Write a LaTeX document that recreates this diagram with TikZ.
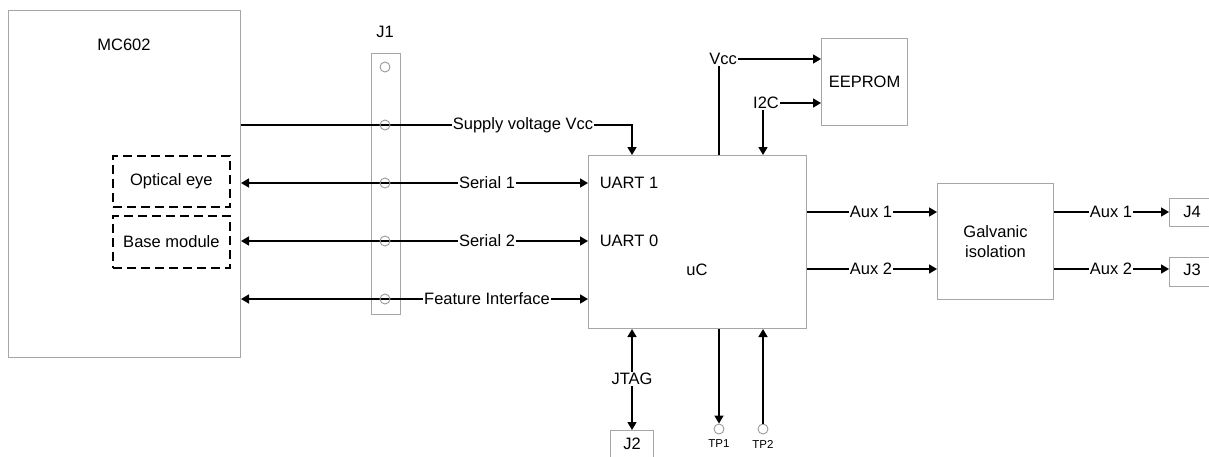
\documentclass[tikz,border=0pt]{standalone}
\usepackage{fontspec}
\setmainfont{Liberation Sans}
\usetikzlibrary{arrows.meta}
\begin{document}
\begin{tikzpicture}[x=1pt,y=-1pt,
  every node/.style={font=\fontsize{16.5}{19.5}\selectfont, inner sep=1pt},
  box/.style={draw=gray!70, line width=1pt, inner sep=0pt, anchor=north west},
  dbox/.style={draw=black, line width=1.8pt, dash pattern=on 9pt off 5pt, inner sep=0pt, anchor=north west},
  wire/.style={line width=1.6pt, draw=black},
  tip/.style={-{Triangle[length=8pt,width=9pt]}},
  tipl/.style={{Triangle[length=8pt,width=9pt]}-},
  small/.style={font=\fontsize{11.5}{13}\selectfont},
  pin/.style={draw=gray!80, line width=0.9pt, circle, minimum size=10pt, inner sep=0pt}
]
\useasboundingbox (0,0) rectangle (1209,456);

% boxes
\node[box, minimum width=232pt, minimum height=347pt] (mc) at (8,10) {};
\node (mct) at (124,45) {MC602};
\node[dbox, minimum width=117pt, minimum height=51pt] (oe) at (112,155) {};
\node at (oe.center) {Optical eye};
\node[dbox, minimum width=117pt, minimum height=52pt] (bm) at (112,215) {};
\node at (bm.center) {Base module};

\node[box, minimum width=29pt, minimum height=261pt] (j1) at (371,53) {};
\node (j1t) at (385,32) {J1};

\node[box, minimum width=218pt, minimum height=173pt] (uc) at (588,155) {};
\node (u1) at (629,183) {UART 1};
\node (u0) at (629,241) {UART 0};
\node (uct) at (697,270) {uC};

\node[box, minimum width=86pt, minimum height=87pt] (ee) at (821,38) {};
\node at (ee.center) {EEPROM};

\node[box, minimum width=116pt, minimum height=116pt] (gi) at (937,183) {};
\node[align=center] at (gi.center) {Galvanic\\isolation};

\node[box, minimum width=60pt, minimum height=28pt] (j4) at (1169,198) {};
\node (j4t) at (1192,212) {J4};
\node[box, minimum width=60pt, minimum height=29pt] (j3) at (1169,257) {};
\node (j3t) at (1192,270) {J3};

\node[box, minimum width=43pt, minimum height=40pt] (j2) at (610,430) {};
\node (j2t) at (632,444) {J2};

% labels
\node (sup) at (523,125) {Supply voltage Vcc};
\node (s1) at (487,183) {Serial 1};
\node (s2) at (487,241) {Serial 2};
\node (fi) at (487,299) {Feature Interface};
\node (vcc) at (723,59) {Vcc};
\node (i2c) at (766,103) {I2C};
\node (a1) at (871,212) {Aux 1};
\node (a2) at (871,269) {Aux 2};
\node (b1) at (1111,212) {Aux 1};
\node (b2) at (1111,269) {Aux 2};
\node (jtag) at (632,379) {JTAG};
\node[pin] (tp1c) at (719,429) {};
\node[pin] (tp2c) at (763,429) {};
\node[small] (tp1) at (719,444) {TP1};
\node[small] (tp2) at (763,444) {TP2};

% left connectors
\draw[wire] (mc.east |- sup) -- (sup.west);
\draw[wire,tip] (sup.east) -| (uc.north -| jtag);
\draw[wire,tipl] (mc.east |- s1) -- (s1.west);
\draw[wire,tip] (s1.east) -- (s1.east -| uc.west);
\draw[wire,tipl] (mc.east |- s2) -- (s2.west);
\draw[wire,tip] (s2.east) -- (s2.east -| uc.west);
\draw[wire,tipl] (mc.east |- fi) -- (fi.west);
\draw[wire,tip] (fi.east) -- (fi.east -| uc.west);

% J1 pins
\foreach \y/\n in {67/p1,125/p2,183/p3,241/p4,299/p5}
  \node[pin] (\n) at (385,\y) {};

% top
\draw[wire] (uc.north -| tp1c) -- (vcc.south -| tp1c);
\draw[wire,tip] (vcc.east) -- (vcc.east -| ee.west);
\draw[wire,tip] (i2c.east) -- (i2c.east -| ee.west);
\draw[wire,tip] (i2c.south -| tp2c) -- (uc.north -| tp2c);

% right
\draw[wire] (uc.east |- a1) -- (a1.west);
\draw[wire,tip] (a1.east) -- (a1.east -| gi.west);
\draw[wire] (uc.east |- a2) -- (a2.west);
\draw[wire,tip] (a2.east) -- (a2.east -| gi.west);
\draw[wire] (gi.east |- b1) -- (b1.west);
\draw[wire,tip] (b1.east) -- (b1.east -| j4.west);
\draw[wire] (gi.east |- b2) -- (b2.west);
\draw[wire,tip] (b2.east) -- (b2.east -| j3.west);

% bottom
\draw[wire,tip] (jtag.north) -- (uc.south -| jtag);
\draw[wire,tip] (jtag.south) -- (j2.north -| jtag);
\draw[wire,tip] (uc.south -| tp1c) -- (tp1c.north);
\draw[wire,tip] (tp2c.north) -- (uc.south -| tp2c);
\end{tikzpicture}
\end{document}
